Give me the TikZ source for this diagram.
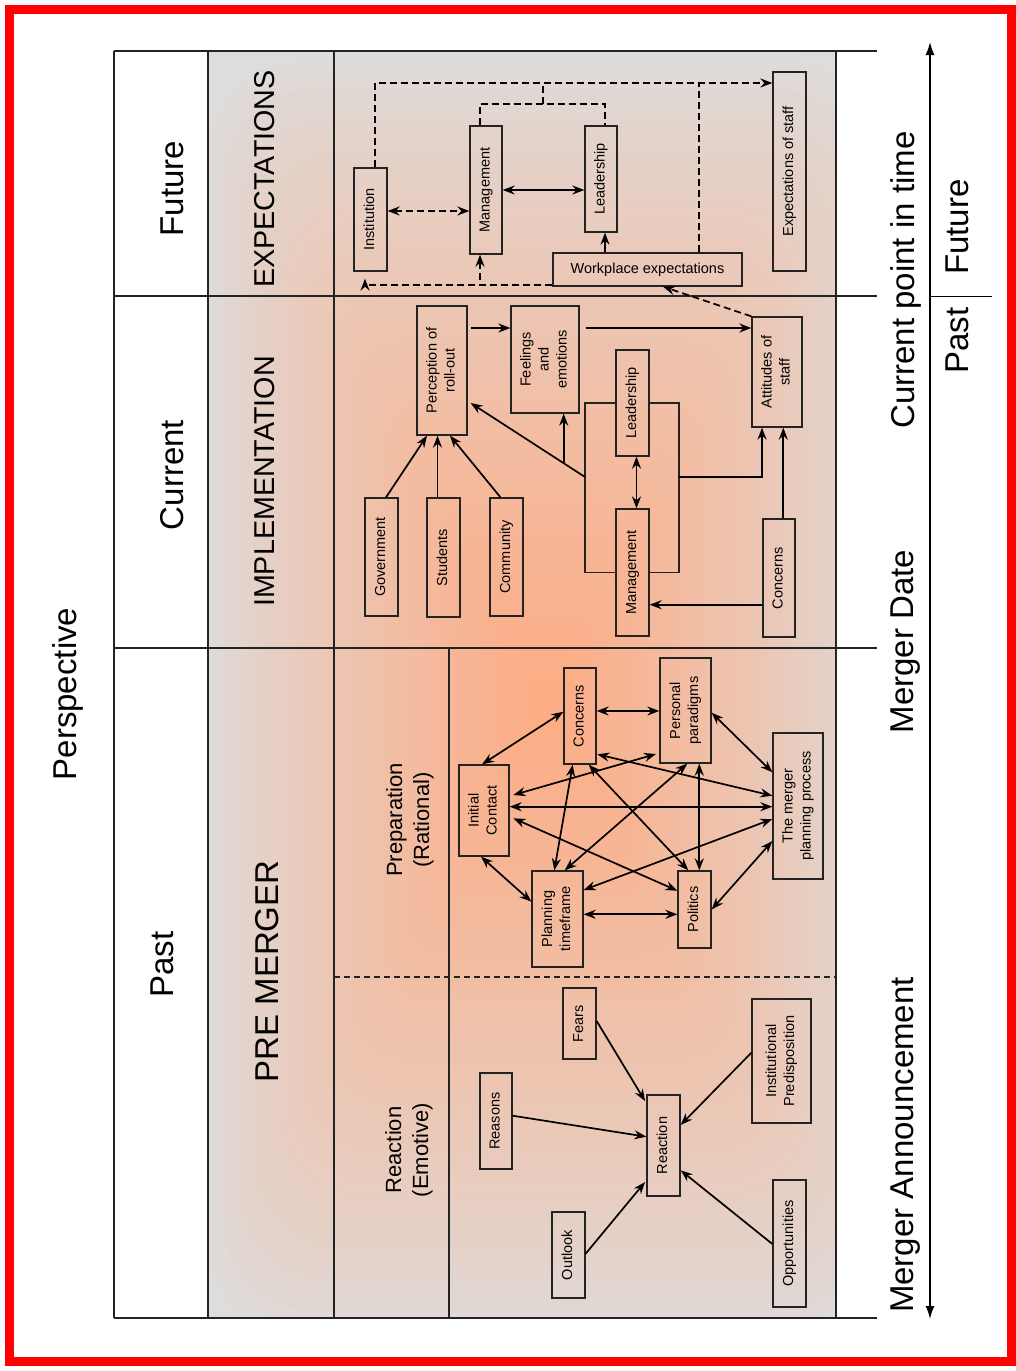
\documentclass[tikz,border=0pt]{standalone}
\usepackage{fontspec}
\setmainfont{Liberation Sans}
\usepackage{graphicx}
\usetikzlibrary{arrows.meta}
\definecolor{gA}{RGB}{253,172,132}
\definecolor{gD}{RGB}{221,221,221}
\definecolor{ln}{RGB}{35,35,35}
\definecolor{framered}{RGB}{255,0,0}
\newcommand\bxfont{\fontsize{14.5}{18}\selectfont}
\newcommand\hdfont{\fontsize{33}{38}\selectfont}
\newcommand\vtext[1]{\rotatebox{90}{\begin{tabular}{@{}c@{}}#1\end{tabular}}}
\begin{document}
\begin{tikzpicture}[x=1pt,y=-1pt,
  box/.style={draw=ln, line width=1.3pt, inner sep=0pt, font=\bxfont},
  grp/.style={draw=ln, line width=1.3pt},
  tbl/.style={draw=ln, line width=1.2pt},
  hd/.style={rotate=90, font=\hdfont, inner sep=0pt},
  >={Stealth[length=12pt,width=9pt,inset=4pt]},
  con/.style={line width=1.7pt, draw=black},
  dsh/.style={con, dash pattern=on 7pt off 4pt}]
\useasboundingbox (0,0) rectangle (1016,1371);
% frame
\draw[framered, line width=9pt] (9.5,9.5) rectangle (1011.5,1361.5);
% background with glow (stepped concentric rectangles)
\begin{scope}
  \clip (208,51) rectangle (836,1318);
  \fill[gD] (208,51) rectangle (836,1318);
  \foreach \i in {0,...,44}{
    \pgfmathsetmacro\t{\i/44}
    \pgfmathsetmacro\hw{340*(1-\t)+6}
    \pgfmathsetmacro\hh{650*(1-\t)+6}
    \pgfmathsetmacro\rc{0.3*\hw}
    \pgfmathsetmacro\p{100*(\t)^0.8}
    \fill[gA!\p!gD, rounded corners=\rc pt] (545-\hw,700-\hh) rectangle (545+\hw,700+\hh);
  }
\end{scope}
% table lines
\draw[tbl] (114,51) -- (877,51);
\draw[tbl] (114,296) -- (877,296);
\draw[tbl] (114,648) -- (877,648);
\draw[tbl] (114,1318) -- (877,1318);
\draw[tbl] (114,51) -- (114,1318);
\draw[tbl] (208,51) -- (208,1318);
\draw[tbl] (334,51) -- (334,1318);
\draw[tbl] (836,51) -- (836,1318);
\draw[tbl] (449,648) -- (449,1318);
\draw[tbl, dash pattern=on 6pt off 4pt] (334,977) -- (836,977);
% headings
\node[hd] (persp) at (68,694) {Perspective};
\node[hd] (hFut) at (172,188.5) {Future};
\node[hd] (hCur) at (172,475) {Current};
\node[hd] (hPast) at (162,964.5) {Past};
\node[rotate=90, inner sep=0pt, font=\fontsize{28.7}{34}\selectfont] (hExp) at (265,179) {EXPECTATIONS};
\node[rotate=90, inner sep=0pt, font=\fontsize{28.7}{34}\selectfont] (hImp) at (265,481.5) {IMPLEMENTATION};
\node[rotate=90, inner sep=0pt, font=\fontsize{33}{38}\selectfont] (hPre) at (267,971.5) {PRE MERGER};
\node[rotate=90, inner sep=0pt, align=center, font=\fontsize{22}{27}\selectfont] (hPrep) at (410,820) {Preparation\\(Rational)};
\node[rotate=90, inner sep=0pt, align=center, font=\fontsize{22}{27}\selectfont] (hReac) at (409,1150) {Reaction\\(Emotive)};
% time axis
\coordinate (axT) at (930,42);
\coordinate (axB) at (930,1319);
\draw[line width=1.6pt, {Latex[length=13pt,width=9pt]}-{Latex[length=13pt,width=9pt]}] (axB) -- (axT);
\coordinate (tk1) at (930,296.5);
\coordinate (tk2) at (992,296.5);
\draw[line width=1.5pt] (tk1) -- (tk2);
\node[hd] (tCur) at (906,280) {Current point in time};
\node[hd] (tFut) at (957,227) {Future};
\node[hd] (tPast) at (957,340.5) {Past};
\node[hd] (tMD) at (906,641.5) {Merger Date};
\node[hd] (tMA) at (906,1145) {Merger Announcement};
% ---------- Future ----------
\node[box, minimum width=33pt, minimum height=103pt] (inst) at (370.5,219.5) {\vtext{Institution}};
\node[box, minimum width=32pt, minimum height=128pt] (mgF) at (486,190) {\vtext{Management}};
\node[box, minimum width=32pt, minimum height=106pt] (ldF) at (601,179) {\vtext{Leadership}};
\node[box, minimum width=33pt, minimum height=199pt] (exs) at (789.5,171.5) {\vtext{Expectations of staff}};
\node[box, minimum width=189pt, minimum height=33pt] (wpe) at (647.5,269.5) {Workplace expectations};
\coordinate (j1) at (543,104);
\coordinate (j2) at (543,83);
\draw[dsh, ->] ([xshift=4.5pt]inst.north) |- ([yshift=88.5pt]exs.west);
\draw[dsh] ([xshift=-6pt]mgF.north) |- (j1) -| ([xshift=4pt]ldF.north);
\draw[dsh] (j1) -- (j2);
\draw[dsh] ([xshift=51.5pt]wpe.north) -- ++(0,-170);
\draw[dsh, <->] ([yshift=8.5pt]inst.east) -- ([yshift=-21pt]mgF.west);
\draw[con, <->] (mgF.east) -- ([yshift=-11pt]ldF.west);
\draw[con, ->] ([xshift=-42.5pt]wpe.north) -- ([xshift=4pt]ldF.south);
\draw[dsh, ->] ([yshift=-15.5pt]wpe.west) -| ([xshift=-6pt]mgF.south);
\draw[dsh, ->] ([yshift=-15.5pt]wpe.west) -| ([xshift=-5.5pt,yshift=-7pt]inst.south);
% ---------- Current ----------
\node[box, minimum width=50pt, minimum height=129pt] (per) at (442,370.5) {\vtext{Perception of\\roll-out}};
\node[box, minimum width=68pt, minimum height=107pt] (fee) at (545,359.5) {\vtext{Feelings\\and\\emotions}};
\node[box, minimum width=33pt, minimum height=106pt] (ldC) at (632.5,403) {\vtext{Leadership}};
\node[box, minimum width=33pt, minimum height=127pt] (mgC) at (632.5,572.5) {\vtext{Management}};
\node[box, minimum width=50pt, minimum height=110pt] (att) at (777,372) {\vtext{Attitudes of\\staff}};
\node[box, minimum width=33pt, minimum height=118pt] (gov) at (381.5,557) {\vtext{Government}};
\node[box, minimum width=33pt, minimum height=119pt] (stu) at (443.5,557.5) {\vtext{Students}};
\node[box, minimum width=33pt, minimum height=118pt] (com) at (506.5,557) {\vtext{Community}};
\node[box, minimum width=32pt, minimum height=118pt] (cnC) at (779,578) {\vtext{Concerns}};
\coordinate (gTL) at (585,403);
\coordinate (gBL) at (585,572.5);
\coordinate (gTR) at (679,403);
\coordinate (gBR) at (679,572.5);
\coordinate (gL) at (585,477);
\coordinate (gR) at (679,477);
\coordinate (dg) at (563.7,463.5);
\draw[grp] (ldC.west) -- (gTL) -- (gBL) -- (mgC.west);
\draw[grp] (ldC.east) -- (gTR) -- (gBR) -- (mgC.east);
\draw[dsh, ->] (att.north west) -- ([xshift=15.5pt]wpe.south);
\draw[con, ->] ([xshift=3pt,yshift=42.5pt]per.east) -- ([yshift=31.5pt]fee.west);
\draw[con, ->] ([xshift=6pt,yshift=31.5pt]fee.east) -- ([yshift=44pt]att.west);
\draw[con, ->] ([xshift=4.5pt]gov.north) -- ([xshift=-15pt]per.south);
\draw[con, ->] ([xshift=-6pt]stu.north) -- ([xshift=-4.5pt]per.south);
\draw[con, ->] ([xshift=-6pt]com.north) -- ([xshift=8pt]per.south);
\draw[con, ->] (gL) -- ([xshift=3pt,yshift=-32.5pt]per.east);
\draw[con, ->] (dg) -- ([xshift=18.7pt]fee.south);
\draw[con, <->] ([xshift=4pt]ldC.south) -- ([xshift=4pt]mgC.north);
\draw[con, ->] (gR) -| ([xshift=-15pt]att.south);
\draw[con, ->] ([xshift=4.3pt]cnC.north) -- ([xshift=6.3pt]att.south);
\draw[con, ->] ([yshift=-26.7pt]cnC.west) -- ([yshift=-32.2pt]mgC.east);
% ---------- Preparation ----------
\node[box, minimum width=32pt, minimum height=96pt] (cp) at (580,716) {\vtext{Concerns}};
\node[box, minimum width=51pt, minimum height=105pt] (pp) at (685.5,710.5) {\vtext{Personal\\paradigms}};
\node[box, minimum width=50pt, minimum height=91pt] (ic) at (484,810.5) {\vtext{Initial\\Contact}};
\node[box, minimum width=50pt, minimum height=146pt] (mp) at (798,806) {\vtext{The merger\\planning process}};
\node[box, minimum width=51pt, minimum height=96pt] (pt) at (557.5,919) {\vtext{Planning\\timeframe}};
\node[box, minimum width=33pt, minimum height=77pt] (po) at (694.5,909.5) {\vtext{Politics}};
\draw[con, <->] ([xshift=-2pt]ic.north) -- ([yshift=4.3pt]cp.west);
\draw[con, <->] ([yshift=5pt]cp.east) -- ([yshift=-0.5pt]pp.west);
\draw[con, <->] ([yshift=-2.2pt]pp.east) -- ([yshift=33.7pt]mp.west);
\draw[con, <->] ([yshift=3.8pt]ic.east) -- ([yshift=-0.7pt]mp.west);
\draw[con, <->] ([xshift=3.7pt,yshift=15.5pt]ic.east) -- ([xshift=-3.3pt,yshift=-43.5pt]pp.west);
\draw[con, <->] ([xshift=0.7pt,yshift=-38.3pt]cp.east) -- ([yshift=10.3pt]mp.west);
\draw[con, <->] ([xshift=3.7pt,yshift=-7.8pt]ic.east) -- ([yshift=18.8pt]po.west);
\draw[con, <->] ([xshift=-3pt]ic.south) -- ([yshift=17.3pt]pt.west);
\draw[con, <->] ([xshift=-7.3pt]cp.south) -- ([xshift=-3.2pt]pt.north);
\draw[con, <->] ([xshift=8.7pt]cp.south) -- ([xshift=-6.2pt]po.north);
\draw[con, <->] ([xshift=1.8pt]pp.south) -- ([xshift=7.2pt]pt.north);
\draw[con, <->] ([xshift=13.8pt]pp.south) -- ([xshift=4.8pt]po.north);
\draw[con, <->] ([yshift=-13pt]mp.west) -- ([yshift=29pt]pt.east);
\draw[con, <->] ([yshift=-35pt]mp.west) -- (po.east);
\draw[con, <->] ([yshift=4.7pt]pt.east) -- ([yshift=-4.8pt]po.west);
% ---------- Reaction ----------
\node[box, minimum width=33pt, minimum height=71pt] (fe) at (579.5,1023.5) {\vtext{Fears}};
\node[box, minimum width=32pt, minimum height=96pt] (rs) at (496,1121) {\vtext{Reasons}};
\node[box, minimum width=33pt, minimum height=101pt] (re) at (663.5,1145.5) {\vtext{Reaction}};
\node[box, minimum width=59pt, minimum height=124pt] (ip) at (781.5,1061) {\vtext{Institutional\\Predisposition}};
\node[box, minimum width=33pt, minimum height=86pt] (ol) at (568.5,1255) {\vtext{Outlook}};
\node[box, minimum width=33pt, minimum height=127pt] (op) at (789.5,1243.5) {\vtext{Opportunities}};
\draw[con, ->] ([yshift=2.5pt]fe.east) -- ([xshift=-1.3pt,yshift=-6.7pt]re.north west);
\draw[con, ->] ([yshift=5.3pt]rs.east) -- ([yshift=8.8pt]re.west);
\draw[con, ->] ([yshift=8.3pt]ip.west) -- ([yshift=20.5pt]re.east);
\draw[con, ->] ([yshift=1.3pt]ol.east) -- ([xshift=-1.3pt,yshift=-36.5pt]re.west);
\draw[con, ->] ([yshift=-0.5pt]op.west) -- ([yshift=-24.8pt]re.east);
\end{tikzpicture}
\end{document}
